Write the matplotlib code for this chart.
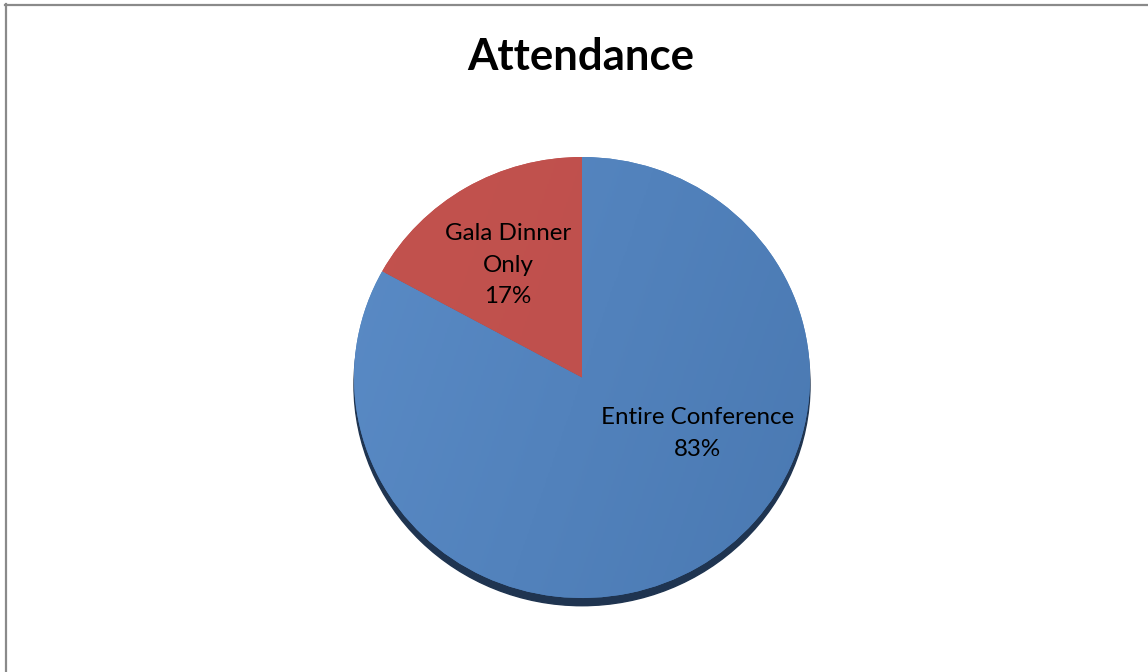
import matplotlib
matplotlib.use("Agg")
import matplotlib.pyplot as plt
import numpy as np
from matplotlib.colors import LinearSegmentedColormap
from matplotlib.patches import Ellipse
from matplotlib.lines import Line2D

# Attendance data
categories = ["Entire Conference", "Gala Dinner Only"]
shares = [83, 17]
label_text = ["Entire Conference\n{}%", "Gala Dinner\nOnly\n{}%"]

W, H = 1148, 672
fig = plt.figure(figsize=(W / 100, H / 100), dpi=100)
fig.patch.set_facecolor("white")

# chart frame (grey border on the top and left edges)
fig.add_artist(Line2D([5.5 / W, 5.5 / W], [0, 1 - 4 / H], color="#8a8a8a", lw=1.6,
                      transform=fig.transFigure))
fig.add_artist(Line2D([5 / W, 1], [1 - 4.5 / H, 1 - 4.5 / H], color="#8a8a8a", lw=1.6,
                      transform=fig.transFigure))

fig.text(581 / W, 1 - 57 / H, "Attendance", ha="center", va="center",
         fontsize=31.5, fontweight="bold", family=["Lato", "DejaVu Sans"])

# pie axes: slightly flattened ellipse
left, right, top, bottom = 354, 810, 157, 598
ax = fig.add_axes([left / W, 1 - bottom / H, (right - left) / W, (bottom - top) / H])

# drop shadow under the pie
shadow = Ellipse((0, -0.035), 2.0, 2.0, color="#1f3450", zorder=0, clip_on=False)
ax.add_patch(shadow)

wedges, _ = ax.pie(shares, startangle=90, counterclock=False, radius=1.0,
                   colors=["#4f81bd", "#c0504d"],
                   wedgeprops=dict(linewidth=0), frame=True)
ax.set_aspect("auto")

# subtle diagonal shading inside each slice
grad_colors = [("#5a8bc6", "#4a79b2"), ("#c3524e", "#bb4f4c")]
gx, gy = np.meshgrid(np.linspace(0, 1, 256), np.linspace(0, 1, 256))
ramp = 0.75 * gx + 0.25 * gy
for w, (c0, c1) in zip(wedges, grad_colors):
    cmap = LinearSegmentedColormap.from_list("shade", [c0, c1])
    im = ax.imshow(ramp, cmap=cmap, extent=(-1, 1, -1, 1), origin="upper",
                   aspect="auto", zorder=w.get_zorder() + 0.1, interpolation="bilinear")
    im.set_clip_path(w)
ax.set_xlim(-1, 1)
ax.set_ylim(-1, 1)
ax.axis("off")

# label placement inside the slices
label_pos = [(0.505, -0.255), (-0.325, 0.51)]
for txt, val, (x, y) in zip(label_text, shares, label_pos):
    ax.text(x, y, txt.format(val), ha="center", va="center", fontsize=17.4,
            color="black", linespacing=1.62, family=["Lato", "DejaVu Sans"], zorder=10)

fig.savefig("out.png", dpi=100, facecolor="white")
